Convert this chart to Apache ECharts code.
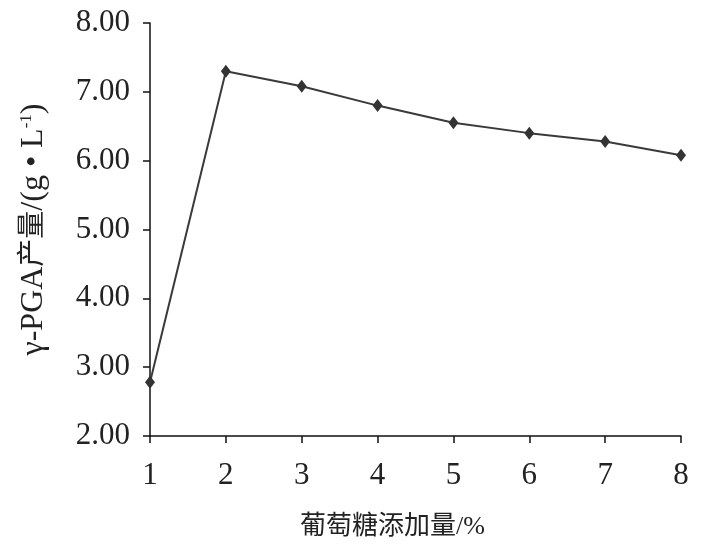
<!DOCTYPE html>
<html>
<head>
<meta charset="utf-8">
<script src="https://cdn.jsdelivr.net/npm/echarts@6/dist/echarts.min.js"></script>
<style>
  html, body { margin: 0; padding: 0; background: #fff; }
  #chart { width: 728px; height: 557px; }
</style>
</head>
<body>
<div id="chart"></div>
<script>
// 葡萄糖添加量 (%)
const glucose = [1, 2, 3, 4, 5, 6, 7, 8];
// γ-PGA 产量 (g·L-1)
const yieldVals = [2.78, 7.30, 7.08, 6.80, 6.55, 6.40, 6.28, 6.08];

const serif = '"Liberation Serif", "Noto Sans CJK SC", serif';

const myChart = echarts.init(document.getElementById('chart'));

const option = {
  backgroundColor: '#fff',
  animation: false,
  grid: { left: 150, right: 47, top: 23, bottom: 121 },
  xAxis: {
    type: 'value',
    min: 1,
    max: 8,
    interval: 1,
    name: '葡萄糖添加量/%',
    nameLocation: 'middle',
    nameGap: 78,
    nameTextStyle: { fontFamily: serif, fontSize: 26, color: '#222', padding: [0, 46, 0, 0] },
    axisLine: { lineStyle: { color: '#111', width: 1.5 } },
    axisTick: { show: true, length: 7, lineStyle: { color: '#111', width: 1.5 } },
    axisLabel: { fontFamily: serif, fontSize: 31, color: '#222', margin: 24 },
    splitLine: { show: false }
  },
  yAxis: {
    type: 'value',
    min: 2,
    max: 8,
    interval: 1,
    name: '{a|γ-PGA}{c|产量}{a|/(g • L}{s|-1}{a|)}',
    nameLocation: 'middle',
    nameGap: 100,
    nameRotate: 90,
    nameTextStyle: {
      padding: [0, 0, 0, 0],
      rich: {
        a: { fontFamily: serif, fontSize: 32, color: '#222' },
        c: { fontFamily: serif, fontSize: 28, color: '#222' },
        s: { fontFamily: serif, fontSize: 17, color: '#222', verticalAlign: 'top', padding: [0, 0, 14, 0] }
      }
    },
    axisLine: { show: true, lineStyle: { color: '#111', width: 1.5 } },
    axisTick: { show: true, length: 7, lineStyle: { color: '#111', width: 1.5 } },
    axisLabel: {
      fontFamily: serif, fontSize: 31, color: '#222', margin: 20,
      formatter: v => v.toFixed(2)
    },
    splitLine: { show: false }
  },
  series: [{
    type: 'line',
    data: glucose.map((g, i) => [g, yieldVals[i]]),
    symbol: 'diamond',
    symbolSize: [10, 13],
    itemStyle: { color: '#333' },
    lineStyle: { color: '#3a3a3a', width: 2 },
    clip: false
  }]
};

myChart.setOption(option);
</script>
</body>
</html>
